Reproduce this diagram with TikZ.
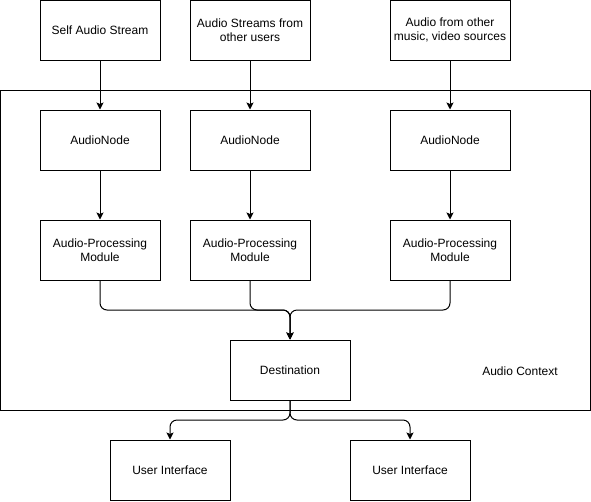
\documentclass[tikz,border=0pt]{standalone}
\usepackage{fontspec}
\setmainfont{Liberation Sans}
\usepackage{tikz}
\usetikzlibrary{arrows.meta, positioning}

\tikzset{
  box/.style={draw, line width=1pt, minimum width=120pt, minimum height=60pt,
    inner sep=0pt, align=center, font=\fontsize{12pt}{14pt}\selectfont},
  flow/.style={-{Stealth[length=7pt, width=7pt, inset=1.5pt]}, line width=1pt, rounded corners=7pt},
}

\begin{document}
\begin{tikzpicture}[x=1pt, y=-1pt]
  \useasboundingbox (0,0) rectangle (591,501);

  % Audio context frame
  \draw[line width=1pt] (0.5,90) rectangle (590.5,410);
  \node[font=\fontsize{12pt}{14pt}\selectfont] (ctx) at (520,371) {Audio Context};

  % Three input chains
  \coordinate (join) at (290,310);
  \node[box] (dest) at (290,370) {Destination};
  \foreach \i/\x/\src in {1/100/{Self Audio Stream}, 2/250/{Audio Streams from\\other users}, 3/450/{Audio from other\\music, video sources}} {
    \node[box] (src\i) at (\x,30) {\src};
    \node[box] (an\i) at (\x,140) {AudioNode};
    \node[box] (apm\i) at (\x,250) {Audio-Processing\\Module};
    \draw[flow] (src\i) -- (an\i);
    \draw[flow] (an\i) -- (apm\i);
    \draw[flow] (apm\i.south) |- (join) -- (dest.north);
  }

  % Outputs
  \coordinate (split) at (290,420);
  \node[box] (ui1) at (170,470) {User Interface};
  \node[box] (ui2) at (410,470) {User Interface};
  \draw[flow] (dest.south) -- (split) -| (ui1.north);
  \draw[flow] (dest.south) -- (split) -| (ui2.north);
\end{tikzpicture}
\end{document}
